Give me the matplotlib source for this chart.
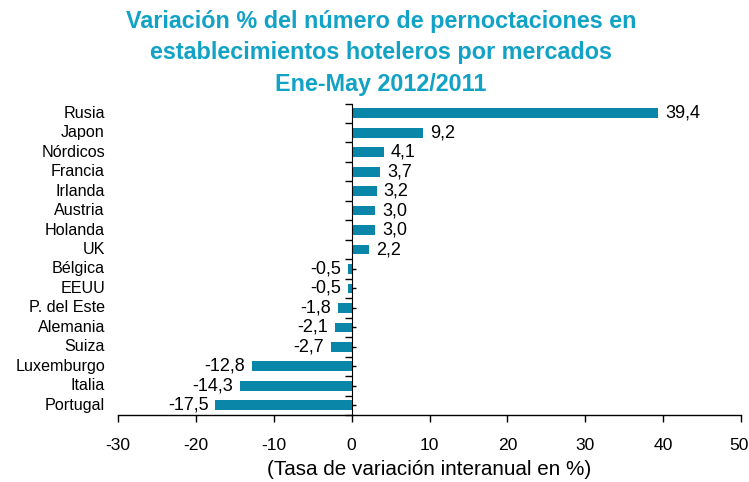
import matplotlib
matplotlib.use("Agg")
import matplotlib.pyplot as plt
import matplotlib.transforms as mtransforms
import numpy as np
from matplotlib.ticker import FixedLocator

plt.rcParams['font.family'] = ['Liberation Sans', 'DejaVu Sans']

categories = ["Rusia", "Japon", "Nórdicos", "Francia", "Irlanda", "Austria", "Holanda", "UK",
              "Bélgica", "EEUU", "P. del Este", "Alemania", "Suiza", "Luxemburgo", "Italia", "Portugal"]
values = [39.4, 9.2, 4.1, 3.7, 3.2, 3.0, 3.0, 2.2, -0.5, -0.5, -1.8, -2.1, -2.7, -12.8, -14.3, -17.5]
xticks = [-30, -20, -10, 0, 10, 20, 30, 40, 50]

title = "Variación % del número de pernoctaciones en\nestablecimientos hoteleros por mercados\nEne-May 2012/2011"
xlabel = "(Tasa de variación interanual en %)"

bar_color = "#0a87a8"
title_color = "#12a2c6"

fig = plt.figure(figsize=(7.49, 4.82), dpi=100)
ax = fig.add_axes([118/749, 1-415/482, 623/749, 311.5/482])

y = np.arange(len(categories))
ax.barh(y, values, height=0.5, color=bar_color, zorder=2)
ax.set_ylim(len(categories)-0.5, -0.5)
ax.set_xlim(-30, 50)
ax.set_xticks(xticks)
ax.set_xticklabels([str(t) for t in xticks], fontsize=12.6)
ax.tick_params(axis='x', direction='out', length=5, width=1, pad=11.5, color='black')

# keep the last tick label inside the canvas (as in the reference)
last = ax.get_xticklabels()[-1]
last.set_transform(last.get_transform() +
                   mtransforms.ScaledTranslation(-2.5/100, 0, fig.dpi_scale_trans))

for s in ['top', 'right']:
    ax.spines[s].set_visible(False)
ax.spines['left'].set_position(('data', 0))
ax.spines['left'].set_zorder(3)
ax.spines['bottom'].set_linewidth(1)

ax.set_yticks(y)
ax.set_yticklabels([])
ax.yaxis.set_minor_locator(FixedLocator(np.arange(-0.5, len(categories), 1)))
ax.tick_params(axis='y', which='major', direction='in', length=3, width=1)
ax.tick_params(axis='y', which='minor', direction='out', length=5, width=1)

trans = ax.get_yaxis_transform()
for yi, cat in zip(y, categories):
    ax.text(-0.021, yi, cat, transform=trans, ha='right', va='center', fontsize=11.6)

for yi, v in zip(y, values):
    lbl = f"{v:.1f}".replace('.', ',')
    if v >= 0:
        ax.annotate(lbl, (v, yi), xytext=(5, 0), textcoords='offset points',
                    ha='left', va='center', fontsize=13)
    else:
        ax.annotate(lbl, (v, yi), xytext=(-5, 0), textcoords='offset points',
                    ha='right', va='center', fontsize=13)

ax.set_xlabel(xlabel, fontsize=14.9, labelpad=5)

fig.text(381/749, 1-53/482, title, ha='center', va='center', fontsize=16.8,
         fontweight='bold', color=title_color, linespacing=1.49)

fig.savefig("out.png", dpi=100)
